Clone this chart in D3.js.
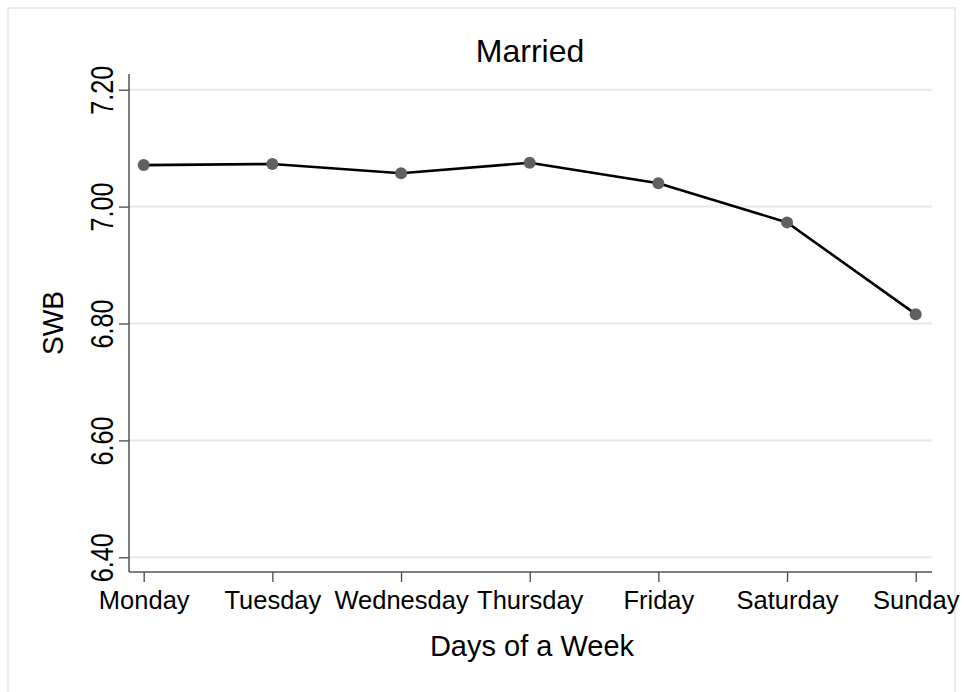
<!DOCTYPE html>
<html>
<head>
<meta charset="utf-8">
<script src="https://cdn.jsdelivr.net/npm/d3@7"></script>
<style>
  body { margin: 0; background: #fff; }
  text { font-family: Arial, "Liberation Sans", Helvetica, sans-serif; fill: #000; }
</style>
</head>
<body>
<div id="chart"></div>
<script>
// data
const days = ["Monday", "Tuesday", "Wednesday", "Thursday", "Friday", "Saturday", "Sunday"];
const swb = [7.071, 7.073, 7.057, 7.075, 7.040, 6.973, 6.816];
const yTicks = [6.4, 6.6, 6.8, 7.0, 7.2];

const title = "Married";
const xTitle = "Days of a Week";
const yTitle = "SWB";

const W = 965, H = 692;
// plot region
const plotL = 129, plotR = 932, plotT = 74, plotB = 572;

const svg = d3.select("#chart").append("svg")
    .attr("width", W)
    .attr("height", H);

// faint outer frame
svg.append("rect")
    .attr("x", 8).attr("y", 8)
    .attr("width", 947).attr("height", 700)
    .attr("fill", "none")
    .attr("stroke", "#e6e6e6")
    .attr("stroke-width", 1.5);

const x = d3.scalePoint()
    .domain(days)
    .range([143.7, 915.7]);

const y = d3.scaleLinear()
    .domain([6.4, 7.2])
    .range([557.3, 89.7]);

// gridlines
svg.append("g")
    .selectAll("line")
    .data(yTicks)
    .join("line")
    .attr("x1", plotL).attr("x2", plotR)
    .attr("y1", d => y(d)).attr("y2", d => y(d))
    .attr("stroke", "#e8e8e8")
    .attr("stroke-width", 2);

// y axis
const yAxis = svg.append("g")
    .attr("transform", `translate(${plotL},0)`)
    .call(d3.axisLeft(y).tickValues(yTicks).tickSize(10).tickSizeOuter(0).tickFormat(d3.format(".2f")));
yAxis.select(".domain").remove();
yAxis.selectAll(".tick line").attr("stroke", "#444").attr("stroke-width", 1.3);
yAxis.selectAll(".tick text")
    .attr("x", null).attr("dy", null)
    .attr("text-anchor", "middle")
    .attr("transform", "translate(-16,0) rotate(-90)")
    .attr("font-size", 31)
    .attr("textLength", 49)
    .attr("lengthAdjust", "spacingAndGlyphs");

svg.append("line")
    .attr("x1", plotL).attr("x2", plotL)
    .attr("y1", plotT).attr("y2", plotB)
    .attr("stroke", "#555").attr("stroke-width", 1.5);

// x axis
const xAxis = svg.append("g")
    .attr("transform", `translate(0,${plotB})`)
    .call(d3.axisBottom(x).tickSize(10).tickSizeOuter(0));
xAxis.select(".domain").remove();
xAxis.selectAll(".tick line").attr("stroke", "#444").attr("stroke-width", 1.3);
xAxis.selectAll(".tick text")
    .attr("y", 37).attr("dy", null)
    .attr("font-size", 25.5);

svg.append("line")
    .attr("x1", plotL).attr("x2", plotR)
    .attr("y1", plotB).attr("y2", plotB)
    .attr("stroke", "#555").attr("stroke-width", 1.5);

// the series
const pts = days.map((d, i) => ({ day: d, v: swb[i] }));

svg.append("path")
    .datum(pts)
    .attr("fill", "none")
    .attr("stroke", "#000")
    .attr("stroke-width", 2.6)
    .attr("d", d3.line().x(d => x(d.day)).y(d => y(d.v)));

svg.selectAll(".pt")
    .data(pts)
    .join("circle")
    .attr("class", "pt")
    .attr("cx", d => x(d.day))
    .attr("cy", d => y(d.v))
    .attr("r", 6)
    .attr("fill", "#606060");

// titles
svg.append("text")
    .attr("x", 530).attr("y", 61.7)
    .attr("text-anchor", "middle")
    .attr("font-size", 32)
    .text(title);

svg.append("text")
    .attr("x", 532).attr("y", 656)
    .attr("text-anchor", "middle")
    .attr("font-size", 29)
    .text(xTitle);

svg.append("text")
    .attr("transform", "translate(62.5,323) rotate(-90)")
    .attr("text-anchor", "middle")
    .attr("font-size", 30)
    .attr("textLength", 64)
    .attr("lengthAdjust", "spacingAndGlyphs")
    .text(yTitle);
</script>
</body>
</html>
